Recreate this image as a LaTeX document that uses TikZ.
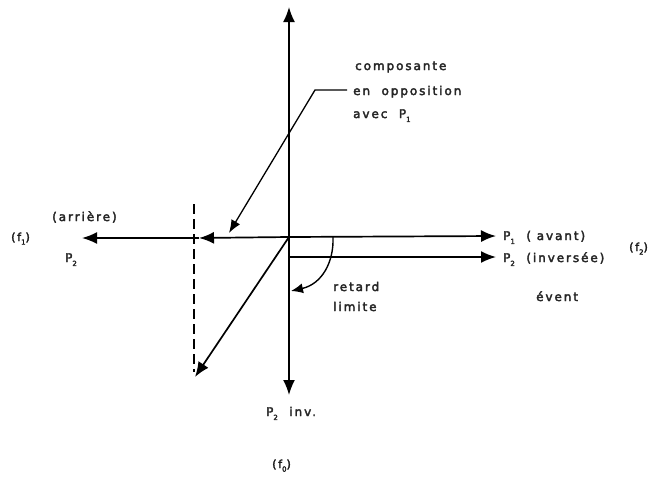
\documentclass[tikz,border=0pt]{standalone}
\usepackage{fontspec}
\setmainfont{DejaVu Sans}[LetterSpace=16,FakeBold=3]
\usetikzlibrary{arrows.meta}
\newcommand{\lowsub}[1]{\raisebox{-0.6ex}{\scriptsize #1}}
\tikzset{
  axis/.style={line width=1.7pt, -{Latex[length=15pt,width=12pt]}},
  plain/.style={line width=1.3pt},
  lbl/.style={inner sep=0pt, font=\fontsize{12}{14}\selectfont, text=black!85},
  small/.style={inner sep=0pt, font=\fontsize{11}{12}\selectfont, text=black!90},
}
\begin{document}
\begin{tikzpicture}[x=1pt,y=-1pt]
\useasboundingbox (0,0) rectangle (656,477);
% key points
\coordinate (O) at (289,237);
\coordinate (top) at (289,7);
\coordinate (bot) at (289,395);
\coordinate (lefttip) at (82,238);
\coordinate (midtip) at (199,238);
\coordinate (righttip) at (496,236);
\coordinate (O2) at (289,257);
\coordinate (right2) at (496,257);
\coordinate (diagtip) at (195,377);
\coordinate (arcstart) at (333,237);
\coordinate (arcend) at (291,291);
\coordinate (dashtop) at (194,204);
\coordinate (dashbot) at (194,372);
\coordinate (leadR) at (347,90);
\coordinate (leadC) at (315,90);
\coordinate (leadtip) at (229,233);
% axes
\draw[axis] (O) -- (top);
\draw[axis] (O) -- (bot);
\draw[axis] (O) -- (righttip);
\draw[axis] (O) -- (midtip);
\draw[axis] (midtip) -- (lefttip);
\draw[axis] (O2) -- (right2);
\draw[axis] (O) -- (diagtip);
% dashed line
\draw[line width=1.7pt, dash pattern=on 10pt off 5pt] (dashtop) -- (dashbot);
% arc
\draw[line width=1.4pt, -{Latex[length=12pt,width=10pt]}] (arcstart) .. controls (334,262) and (322,284) .. (arcend);
% leader
\draw[plain, -{Latex[length=13pt,width=10pt]}] (leadR) -- (leadC) -- (leadtip);
% labels
\node[lbl, anchor=base west] (comp) at (355,70) {composante};
\node[lbl, anchor=base west] (opp) at (353,95) {en\ \ opposition};
\node[lbl, anchor=base west] (avec) at (353,118) {avec\ \ P\lowsub{1}};
\node[lbl, anchor=base west] (arr) at (52,221) {(arrière)};
\node[small, anchor=base west] (f1) at (11,241) {(f\lowsub{1})};
\node[lbl, anchor=base west] (p2l) at (65,262) {P\lowsub{2}};
\node[lbl, anchor=base west] (p1r) at (503,240) {P\lowsub{1}\ \ ( avant)};
\node[small, anchor=base west] (f2) at (629,251) {(f\lowsub{2})};
\node[lbl, anchor=base west] (p2r) at (503,262) {P\lowsub{2}\ \ (inversée)};
\node[lbl, anchor=base west] (evt) at (536,301) {évent};
\node[lbl, anchor=base west] (ret) at (333,291) {retard};
\node[lbl, anchor=base west] (lim) at (333,311) {limite};
\node[lbl, anchor=base west] (p2b) at (266,416) {P\lowsub{2}\ \ inv.};
\node[small, anchor=base west] (f0) at (272,468) {(f\lowsub{0})};
\end{tikzpicture}
\end{document}
